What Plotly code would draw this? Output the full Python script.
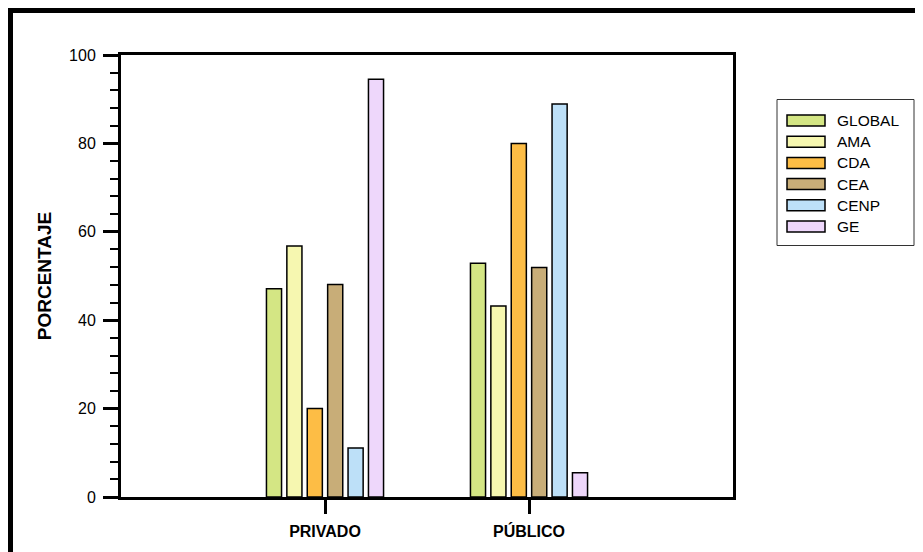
import plotly.graph_objects as go

# data
categorias = ['PRIVADO', 'PÚBLICO']
series = ['GLOBAL', 'AMA', 'CDA', 'CEA', 'CENP', 'GE']
privado = [47.1, 56.8, 20.0, 48.1, 11.1, 94.5]
publico = [52.9, 43.2, 80.0, 51.9, 88.9, 5.5]
colores = ['#d4e684', '#f6f7b0', '#fdbd45', '#c8ad78', '#bde0f8', '#eed7fb']
y_ticks = [0, 20, 40, 60, 80, 100]

W, H = 923, 552
OFF = 8  # page body margin
# plot area in window pixels
X0, X1, Y0, Y1 = 121, 733, 55, 497
pw, ph = X1 - X0, Y1 - Y0
L, T = X0 - OFF, Y0 - OFF
R, B = W - L - pw, H - T - ph

def px(x):
    return (x - X0) / pw

def py(y):
    return (Y1 - y) / ph

font = 'Liberation Sans, Arial, sans-serif'

fig = go.Figure()
for n, s in enumerate(series):
    fig.add_trace(go.Bar(
        x=list(range(len(categorias))),
        y=[privado[n], publico[n]],
        name=s,
        marker=dict(color=colores[n], line=dict(color='black', width=1.5)),
        showlegend=False
    ))

shapes = []
# outer frame (only top / left sides fall inside the window)
shapes.append(dict(type='rect', xref='paper', yref='paper',
                   x0=px(10.5), x1=px(1200), y0=py(900), y1=py(10.5),
                   line=dict(color='black', width=5), layer='above'))
# legend drawn by hand
shapes.append(dict(type='rect', xref='paper', yref='paper',
                   x0=px(777), x1=px(914), y0=py(245.5), y1=py(99.5),
                   line=dict(color='#333333', width=1), fillcolor='white'))
annotations = []
for n, s in enumerate(series):
    yc = 120.5 + n * 21.2
    shapes.append(dict(type='rect', xref='paper', yref='paper',
                       x0=px(787), x1=px(825), y0=py(yc + 5.5), y1=py(yc - 5.5),
                       line=dict(color='black', width=1.5), fillcolor=colores[n]))
    annotations.append(dict(xref='paper', yref='paper', x=px(835), y=py(yc),
                            text=s, showarrow=False, xanchor='left', yanchor='middle',
                            font=dict(family=font, size=15.5, color='black')))

fig.update_layout(
    width=W, height=H,
    margin=dict(l=L, r=R, t=T, b=B),
    plot_bgcolor='white', paper_bgcolor='white',
    barmode='group', bargap=0.4, bargroupgap=0.26,
    font=dict(family=font, color='black'),
    shapes=shapes, annotations=annotations,
    xaxis=dict(
        range=[-1, 2],
        tickvals=list(range(len(categorias))),
        ticktext=['<b>' + c + '</b>' for c in categorias],
        tickfont=dict(size=16, color='black'),
        ticks='outside', ticklen=14, tickwidth=3, tickcolor='black',
        showline=True, linewidth=3, linecolor='black', mirror=True,
        showgrid=False, zeroline=False, ticklabelstandoff=4
    ),
    yaxis=dict(
        range=[0, 100],
        tickvals=y_ticks,
        tickfont=dict(size=16, color='black'),
        ticks='outside', ticklen=15, tickwidth=3, tickcolor='black',
        minor=dict(dtick=4, ticks='outside', ticklen=8, tickwidth=2, tickcolor='black'),
        showline=True, linewidth=3, linecolor='black', mirror=True,
        showgrid=False, zeroline=False, ticklabelstandoff=4,
        title=dict(text='<b>PORCENTAJE</b>', font=dict(size=19, color='black'), standoff=13)
    )
)

fig.write_html("out.html")
